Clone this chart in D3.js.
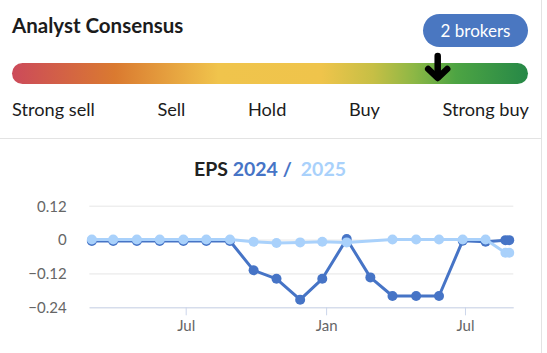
<!DOCTYPE html>
<html>
<head>
<meta charset="utf-8">
<script src="https://cdn.jsdelivr.net/npm/d3@7"></script>
<style>
  html, body { margin: 0; padding: 0; background: #fff; }
  svg { display: block; font-family: Lato, "Noto Sans", sans-serif; }
</style>
</head>
<body>
<svg id="chart" width="547" height="353"></svg>
<script>
// ---------- data ----------
const headerTitle = "Analyst Consensus";
const brokerLabel = "2 brokers";
const ratingLabels = ["Strong sell", "Sell", "Hold", "Buy", "Strong buy"];
const consensusScore = 4.3; // 1 = strong sell ... 5 = strong buy

const eps2024Dates = ["2023-02-28","2023-03-28","2023-04-28","2023-05-28","2023-06-28","2023-07-28","2023-08-28",
  "2023-09-28","2023-10-28","2023-11-28","2023-12-27","2024-01-28","2024-02-28","2024-03-28","2024-04-28",
  "2024-05-28","2024-06-28","2024-07-28","2024-08-23","2024-08-28"];
const eps2024Values = [-0.005,-0.005,-0.005,-0.005,-0.005,-0.005,-0.005,
  -0.109,-0.139,-0.213,-0.139,0.002,-0.134,-0.2,-0.2,
  -0.2,-0.004,-0.008,-0.002,-0.002];

const eps2025Dates = ["2023-02-28","2023-03-28","2023-04-28","2023-05-28","2023-06-28","2023-07-28","2023-08-28",
  "2023-09-28","2023-10-28","2023-11-28","2023-12-27","2024-01-28","2024-03-28","2024-04-28",
  "2024-05-28","2024-06-28","2024-07-28","2024-08-23","2024-08-28"];
const eps2025Values = [0,0,0,0,0,0,0,
  -0.008,-0.012,-0.01,-0.008,-0.01,0,0,
  0,0,0,-0.047,-0.047];

const yTicks = [-0.24, -0.12, 0, 0.12];
const xTicks = ["2023-07-01", "2024-01-01", "2024-07-01"];
const xDomain = ["2023-02-24T16:00:00", "2024-09-02T08:00:00"];

const colDark = "#4674c6";
const colLight = "#a9d1fb";

// ---------- drawing ----------
const svg = d3.select("#chart");
const parse = d3.timeParse("%Y-%m-%d");
const parseT = d3.timeParse("%Y-%m-%dT%H:%M:%S");

// card borders
svg.append("line").attr("x1", 541.5).attr("x2", 541.5).attr("y1", 0).attr("y2", 353)
  .attr("stroke", "#e3e3e3").attr("stroke-width", 1);
svg.append("line").attr("x1", 0).attr("x2", 541).attr("y1", 138.5).attr("y2", 138.5)
  .attr("stroke", "#e3e3e3").attr("stroke-width", 1);

// header
svg.append("text").attr("x", 12).attr("y", 33)
  .attr("font-size", 20.5).attr("font-weight", 700).attr("fill", "#1c1c1c")
  .text(headerTitle);

// badge
svg.append("rect").attr("x", 423).attr("y", 14).attr("width", 105).attr("height", 33)
  .attr("rx", 16.5).attr("fill", "#4a77c1");
svg.append("text").attr("x", 475.5).attr("y", 36.5).attr("text-anchor", "middle")
  .attr("font-size", 17).attr("fill", "#fff").text(brokerLabel);

// gradient bar
const barX = 12, barW = 516, barY = 63, barH = 21;
const defs = svg.append("defs");
const grad = defs.append("linearGradient").attr("id", "cons").attr("x1", "0%").attr("x2", "100%");
[[0, "#cc4a5a"], [0.2, "#da7a30"], [0.4, "#f0c44c"], [0.6, "#efc44b"], [0.7, "#c6bf45"],
 [0.78, "#8cb745"], [0.86, "#4da443"], [1, "#268847"]]
  .forEach(([o, c]) => grad.append("stop").attr("offset", o).attr("stop-color", c));
svg.append("rect").attr("x", barX).attr("y", barY).attr("width", barW).attr("height", barH)
  .attr("rx", barH / 2).attr("fill", "url(#cons)");

// arrow
const sx = d3.scaleLinear().domain([1, 5]).range([barX, barX + barW]);
const ax = sx(consensusScore);
const arrow = svg.append("g").attr("fill", "none").attr("stroke", "#000")
  .attr("stroke-width", 6.5).attr("stroke-linecap", "round").attr("stroke-linejoin", "round");
arrow.append("line").attr("x1", ax).attr("x2", ax).attr("y1", 56).attr("y2", 77);
arrow.append("polyline").attr("points", `${ax - 9.5},${69} ${ax},${78} ${ax + 9.5},${69}`);

// rating labels (space-between)
const labs = svg.append("g").attr("font-size", 18.2).attr("fill", "#1c1c1c");
const nodes = ratingLabels.map(t => labs.append("text").attr("y", 116).text(t));
const widths = nodes.map(n => n.node().getComputedTextLength());
const totalW = d3.sum(widths);
const gap = (517 - totalW) / (ratingLabels.length - 1);
let cx = 12;
nodes.forEach((n, i) => { n.attr("x", cx); cx += widths[i] + gap; });

// EPS title
const title = svg.append("text").attr("x", 270).attr("y", 176).attr("text-anchor", "middle")
  .attr("font-size", 19.5).attr("font-weight", 700);
title.append("tspan").attr("fill", "#222").text("EPS ");
title.append("tspan").attr("fill", colDark).text("2024 /");
title.append("tspan").attr("fill", colLight).attr("dx", 9).text("2025");

// scales
const x = d3.scaleTime().domain(xDomain.map(parseT)).range([89.3, 513.3]);
const y = d3.scaleLinear().domain([-0.24, 0.12]).range([307.3, 205.7]);

// y grid + labels
const yAxis = d3.axisLeft(y).tickValues(yTicks)
  .tickFormat(d => d === 0 ? "0" : d3.format(".2f")(d))
  .tickSize(-(513.3 - 89.3)).tickPadding(22.6);
const gy = svg.append("g").attr("transform", "translate(89.3,0)").call(yAxis);
gy.select(".domain").remove();
gy.selectAll(".tick line").attr("stroke", "#e6e6e6");
gy.selectAll(".tick text").attr("fill", "#666").attr("font-size", 15)
  .attr("font-family", "Lato, sans-serif").attr("dy", "0.36em");

// x axis
const xAxis = d3.axisBottom(x).tickValues(xTicks.map(parse))
  .tickFormat(d3.timeFormat("%b")).tickSizeInner(8).tickSizeOuter(0).tickPadding(5);
const gx = svg.append("g").attr("transform", "translate(0,307.3)").call(xAxis);
gx.select(".domain").attr("stroke", "#ccd6eb");
gx.selectAll(".tick line").attr("stroke", "#ccd6eb");
gx.selectAll(".tick text").attr("fill", "#666").attr("font-size", 15)
  .attr("font-family", "Lato, sans-serif");

// series
function drawSeries(dates, values, color) {
  const pts = dates.map((d, i) => ({ d: parse(d), v: values[i] }));
  const line = d3.line().x(p => x(p.d)).y(p => y(p.v));
  const g = svg.append("g");
  g.append("path").datum(pts).attr("d", line).attr("fill", "none")
    .attr("stroke", color).attr("stroke-width", 3).attr("stroke-linejoin", "round");
  g.selectAll("circle").data(pts).enter().append("circle")
    .attr("cx", p => x(p.d)).attr("cy", p => y(p.v)).attr("r", 5).attr("fill", color);
}
drawSeries(eps2024Dates, eps2024Values, colDark);
drawSeries(eps2025Dates, eps2025Values, colLight);
</script>
</body>
</html>
